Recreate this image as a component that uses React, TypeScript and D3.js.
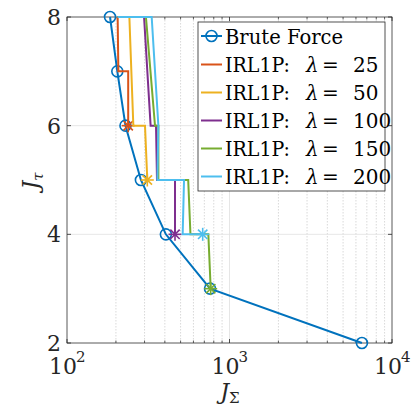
import React from "react";
import * as d3 from "d3";

const bruteX = [184, 204, 229, 285, 406, 759, 6530];
const bruteY = [8, 7, 6, 5, 4, 3, 2];

const irl25X = [205, 207, 238, 238];
const irl25Y = [8, 7, 7, 6];
const irl50X = [205, 242, 256, 302, 312];
const irl50Y = [8, 8, 6, 6, 5];
const irl100X = [205, 298, 327, 353, 358, 462, 462];
const irl100Y = [8, 8, 6, 6, 5, 5, 4];
const irl150X = [205, 306, 348, 365, 365, 557, 575, 741, 766];
const irl150Y = [8, 8, 6, 6, 5, 5, 4, 4, 3];
const irl200X = [205, 332, 365, 360, 525, 515, 684];
const irl200Y = [8, 8, 6, 5, 5, 4, 4];

const lambdas = ["25", "50", "100", "150", "200"];
const colors = ["#D95319", "#EDB120", "#7E2F8E", "#77AC30", "#4DBEEE"];
const blue = "#0072BD";

const yTicks = [2, 4, 6, 8];
const xTicks = [100, 1000, 10000];
const xTickExp = ["2", "3", "4"];

const W = 412, H = 410;
const L = 67, R = 392, T = 17, B = 343;

export default function App() {
  const x = d3.scaleLog().domain([100, 10000]).range([L, R]);
  const y = d3.scaleLinear().domain([2, 8]).range([B, T]);
  const line = d3.line<[number, number]>().x(d => x(d[0])).y(d => y(d[1]));

  const series = [
    [irl25X, irl25Y], [irl50X, irl50Y], [irl100X, irl100Y], [irl150X, irl150Y], [irl200X, irl200Y],
  ];

  const minor: number[] = [];
  for (const dec of [100, 1000]) for (let k = 2; k <= 9; k++) minor.push(dec * k);

  const font = "DejaVu Serif";
  const axisColor = "#262626";

  const asterisk = (cx: number, cy: number, c: string, key: string) => {
    const r = 6.5, d = r * 0.72;
    return (
      <g key={key} stroke={c} strokeWidth={1.6}>
        <line x1={cx - r} y1={cy} x2={cx + r} y2={cy} />
        <line x1={cx} y1={cy - r} x2={cx} y2={cy + r} />
        <line x1={cx - d} y1={cy - d} x2={cx + d} y2={cy + d} />
        <line x1={cx - d} y1={cy + d} x2={cx + d} y2={cy - d} />
      </g>
    );
  };

  const legendY = [36, 64.5, 92.5, 120.5, 148.5, 176.5];
  const ts = { fontFamily: font } as React.CSSProperties;

  return (
    <svg width={W} height={H} style={{ position: "absolute", left: 0, top: 0, background: "#fff", fontFamily: font }}>
      <rect x={0} y={0} width={W} height={H} fill="#fff" />
      {minor.map(v => (
        <line key={"mg" + v} x1={x(v)} x2={x(v)} y1={T} y2={B} stroke="#c8c8c8" strokeWidth={0.7} strokeDasharray="1.5,1.5" />
      ))}
      {xTicks.map(v => (
        <line key={"gx" + v} x1={x(v)} x2={x(v)} y1={T} y2={B} stroke="#e0e0e0" strokeWidth={0.8} />
      ))}
      {yTicks.map(v => (
        <line key={"gy" + v} x1={L} x2={R} y1={y(v)} y2={y(v)} stroke="#e0e0e0" strokeWidth={0.8} />
      ))}
      <rect x={L} y={T} width={R - L} height={B - T} fill="none" stroke={axisColor} strokeWidth={0.8} opacity={0.85} />
      {xTicks.map(v => (
        <g key={"tx" + v} stroke={axisColor} strokeWidth={0.8}>
          <line x1={x(v)} x2={x(v)} y1={B} y2={B - 4} />
          <line x1={x(v)} x2={x(v)} y1={T} y2={T + 4} />
        </g>
      ))}
      {minor.map(v => (
        <g key={"mt" + v} stroke={axisColor} strokeWidth={0.7}>
          <line x1={x(v)} x2={x(v)} y1={B} y2={B - 2.5} />
          <line x1={x(v)} x2={x(v)} y1={T} y2={T + 2.5} />
        </g>
      ))}
      {yTicks.map(v => (
        <g key={"ty" + v} stroke={axisColor} strokeWidth={0.8}>
          <line x1={L} x2={L + 4} y1={y(v)} y2={y(v)} />
          <line x1={R} x2={R - 4} y1={y(v)} y2={y(v)} />
        </g>
      ))}
      {yTicks.map(v => (
        <text key={"yl" + v} style={ts} x={61} y={y(v) + 8} textAnchor="end" fontSize={22} fill={axisColor}>{v}</text>
      ))}
      {xTicks.map((v, i) => (
        <g key={"xl" + v}>
          <text style={ts} x={x(v) - 4} y={374} textAnchor="middle" fontSize={22} fill={axisColor}>10</text>
          <text style={ts} x={x(v) + 9} y={362} textAnchor="start" fontSize={15} fill={axisColor}>{xTickExp[i]}</text>
        </g>
      ))}
      <text style={ts} x={230} y={399} textAnchor="middle" fontSize={22} fill={axisColor}>
        <tspan fontStyle="italic">J</tspan>
        <tspan fontSize={15} dy={4}>Σ</tspan>
      </text>
      <g transform="translate(38,181) rotate(-90)">
        <text style={ts} x={0} y={0} textAnchor="middle" fontSize={22} fill={axisColor}>
          <tspan fontStyle="italic">J</tspan>
          <tspan fontSize={15} fontStyle="italic" dy={5}>τ</tspan>
        </text>
      </g>
      <path d={line(bruteX.map((v, i) => [v, bruteY[i]]) as [number, number][]) || ""} fill="none" stroke={blue} strokeWidth={2} />
      {bruteX.map((v, i) => (
        <circle key={"bc" + i} cx={x(v)} cy={y(bruteY[i])} r={5.5} fill="none" stroke={blue} strokeWidth={1.6} />
      ))}
      {series.map(([sx, sy], k) => (
        <g key={"s" + k}>
          <path d={line(sx.map((v, i) => [v, sy[i]]) as [number, number][]) || ""} fill="none" stroke={colors[k]} strokeWidth={2} />
          {asterisk(x(sx[sx.length - 1]), y(sy[sy.length - 1]), colors[k], "a" + k)}
        </g>
      ))}
      <rect x={198} y={22} width={187} height={169} fill="#fff" stroke={axisColor} strokeWidth={0.8} />
      <line x1={201} x2={222} y1={legendY[0]} y2={legendY[0]} stroke={blue} strokeWidth={2} />
      <circle cx={211.5} cy={legendY[0]} r={5.5} fill="none" stroke={blue} strokeWidth={1.6} />
      <text style={ts} x={225} y={legendY[0] + 7.5} fontSize={20} fill="#000" textLength={118} lengthAdjust="spacingAndGlyphs">Brute Force</text>
      {lambdas.map((lam, k) => {
        const ly = legendY[k + 1];
        return (
          <g key={"lg" + k}>
            <line x1={201} x2={222} y1={ly} y2={ly} stroke={colors[k]} strokeWidth={2} />
            <text style={ts} x={225} y={ly + 7.5} fontSize={20} fill="#000" textLength={65} lengthAdjust="spacingAndGlyphs">IRL1P:</text>
            <text style={ts} x={306} y={ly + 7.5} fontSize={20} fill="#000" fontStyle="italic">λ</text>
            <text style={ts} x={322} y={ly + 7.5} fontSize={20} fill="#000">=</text>
            <text style={ts} x={353} y={ly + 7.5} fontSize={20} fill="#000">{lam}</text>
          </g>
        );
      })}
    </svg>
  );
}
